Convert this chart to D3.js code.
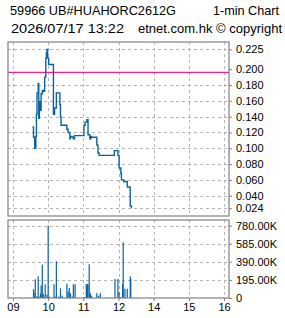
<!DOCTYPE html>
<html><head><meta charset="utf-8">
<script src="https://cdn.jsdelivr.net/npm/d3@7/dist/d3.min.js"></script>
<style>body{margin:0;background:#fff;overflow:hidden}svg{display:block}</style>
</head><body>
<script>
// ---- data ----
const titleCode = "59966 UB#HUAHORC2612G";
const titleType = "1-min Chart";
const stamp = "2026/07/17 13:22";
const source = "etnet.com.hk \u00a9 copyright";

const priceTimes = ["09:33","09:35","09:37","09:39","09:40","09:41","09:43","09:44","09:45","09:46","09:48","09:50","09:52","09:54","09:56","09:57","09:58","09:59","10:01","10:09","10:11","10:14","10:20","10:21","10:22","10:32","10:34","10:37","10:38","10:41","10:43","10:45","11:01","11:03","11:06","11:08","11:11","11:13","11:14","11:23","11:25","11:27","11:53","11:59","13:01","13:04","13:05","13:09","13:15","13:20","13:22"];
const prices = [0.127,0.114,0.100,0.115,0.143,0.170,0.182,0.138,0.159,0.148,0.169,0.173,0.172,0.190,0.214,0.221,0.225,0.214,0.206,0.143,0.151,0.170,0.155,0.140,0.129,0.124,0.120,0.112,0.115,0.114,0.112,0.116,0.129,0.133,0.136,0.117,0.112,0.115,0.114,0.104,0.094,0.091,0.097,0.091,0.075,0.068,0.060,0.058,0.051,0.027,0.024];
const prevClose = 0.196;

const volTimes = ["09:35","09:36","09:38","09:39","09:41","09:43","09:45","09:47","09:48","09:50","09:52","09:55","09:58","10:00","10:02","10:10","10:12","10:14","10:18","10:21","10:24","10:32","10:34","10:36","10:38","10:41","10:43","10:46","11:01","11:05","11:06","11:07","11:08","11:10","11:12","11:14","11:23","11:26","11:29","11:54","11:59","13:01","13:03","13:07","13:08","13:11","13:15","13:20","13:21"];
const volumes = [94000,61000,201000,20000,15000,234000,15000,47000,137000,360000,40000,148000,35000,780000,15000,148000,15000,395000,15000,104000,25000,155000,72000,108000,50000,15000,148000,148000,10000,148000,148000,148000,148000,363000,52000,25000,52000,25000,52000,205000,205000,60000,10000,148000,600000,100000,100000,234000,205000];

const priceTicks = [0.225,0.200,0.180,0.160,0.140,0.120,0.100,0.080,0.060,0.040,0.024];
const volTicks = [0,195000,390000,585000,780000];
const xTickLabels = ["09","10","11","12","14","15","16"];
const xTickTimes = ["09:00","10:00","11:00","12:00","14:00","15:00","16:00"];

// ---- helpers ----
function tmin(s){const [h,m]=s.split(":").map(Number);let v=h*60+m-540;if(h>=13)v-=60;return v;}

const W=285,H=318;
const L=8,R=229,T1=42,B1=216,T2=220,B2=298;
const blue="#0a64a4", grid="#b4b4b4", border="#808080";

const svg=d3.select("body").append("svg").attr("width",W).attr("height",H);
svg.append("rect").attr("width",W).attr("height",H).attr("fill","#fff");

const x=d3.scaleLinear().domain([-8.5,368.5]).range([L,R]);
const y=d3.scaleLinear().domain([0.0143,0.2344]).range([B1,T1]);
const yv=d3.scaleLinear().domain([0,840000]).range([B2,T2]);

const font="'Liberation Sans', Arial, sans-serif";

// header
const hdr=svg.append("g").attr("font-family",font).attr("font-size",13).attr("fill","#000");
hdr.append("text").attr("x",10).attr("y",15).attr("textLength",166).attr("lengthAdjust","spacingAndGlyphs").text(titleCode);
hdr.append("text").attr("x",213).attr("y",15).attr("textLength",66).attr("lengthAdjust","spacingAndGlyphs").text(titleType);
hdr.append("text").attr("x",11).attr("y",33).attr("textLength",113).attr("lengthAdjust","spacingAndGlyphs").text(stamp);
hdr.append("text").attr("x",138).attr("y",33).attr("textLength",144).attr("lengthAdjust","spacingAndGlyphs").text(source);

// grids
const g=svg.append("g").attr("stroke",grid).attr("stroke-dasharray","3,3").attr("stroke-width",1);
xTickTimes.forEach(t=>{
  const xx=Math.round(x(tmin(t)))+0.5;
  g.append("line").attr("x1",xx).attr("x2",xx).attr("y1",T1).attr("y2",B1);
  g.append("line").attr("x1",xx).attr("x2",xx).attr("y1",T2).attr("y2",B2);
});
priceTicks.filter(v=>v!==0.200).forEach(v=>{
  const yy=Math.round(y(v))+0.5;
  g.append("line").attr("x1",L).attr("x2",R).attr("y1",yy).attr("y2",yy);
});
volTicks.filter(v=>v>0).forEach(v=>{
  const yy=Math.round(yv(v))+0.5;
  g.append("line").attr("x1",L).attr("x2",R).attr("y1",yy).attr("y2",yy);
});

// prev close
svg.append("line").attr("x1",L).attr("x2",R).attr("y1",y(prevClose)).attr("y2",y(prevClose))
  .attr("stroke","#ff1a8c").attr("stroke-width",1.3);

// price line
const pdata=priceTimes.map((t,i)=>({t:tmin(t),p:prices[i]}));
svg.append("path").datum(pdata)
  .attr("d",d3.line().x(d=>x(d.t)).y(d=>y(d.p)).curve(d3.curveStepAfter))
  .attr("fill","none").attr("stroke",blue).attr("stroke-width",1.4);

// volume bars
svg.append("g").selectAll("rect").data(volTimes.map((t,i)=>({t:tmin(t),v:volumes[i]}))).join("rect")
  .attr("x",d=>x(d.t)-0.6).attr("width",1.2)
  .attr("y",d=>yv(d.v)).attr("height",d=>B2-yv(d.v)).attr("fill",blue);

// borders
const bd=svg.append("g").attr("fill","none").attr("stroke",border).attr("stroke-width",1.2);
bd.append("rect").attr("x",L).attr("y",T1).attr("width",R-L).attr("height",B1-T1);
bd.append("rect").attr("x",L).attr("y",T2).attr("width",R-L).attr("height",B2-T2);

// right axes
const ya=svg.append("g").attr("transform",`translate(${R},0)`)
  .call(d3.axisRight(y).tickValues(priceTicks).tickSize(3).tickPadding(4).tickFormat(d=>d.toFixed(3)));
const yva=svg.append("g").attr("transform",`translate(${R},0)`)
  .call(d3.axisRight(yv).tickValues(volTicks).tickSize(3).tickPadding(4).tickFormat(d=>d===0?"0":(d/1000).toFixed(2)+"K"));
const xa=svg.append("g").attr("transform",`translate(0,${B2})`)
  .call(d3.axisBottom(x).tickValues(xTickTimes.map(tmin)).tickSize(3).tickPadding(2).tickFormat((d,i)=>xTickLabels[i]));
[ya,yva,xa].forEach(a=>{
  a.select(".domain").remove();
  a.selectAll(".tick line").attr("stroke",border);
  a.selectAll("text").attr("font-family",font).attr("font-size",11).attr("fill","#000");
});
</script>
</body></html>
